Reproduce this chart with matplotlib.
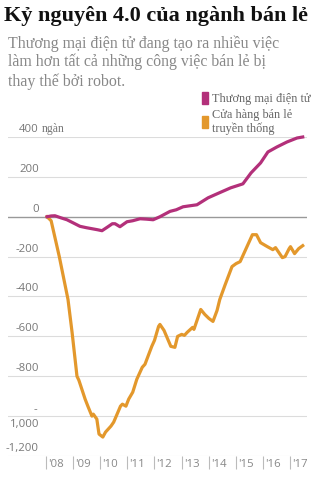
# -*- coding: utf-8 -*-
"""Recreate the retail jobs line chart (e-commerce vs traditional stores)."""
import matplotlib
matplotlib.use("Agg")
import matplotlib.pyplot as plt
import matplotlib.transforms as mtransforms
from matplotlib.patches import Patch

# Data (thousand jobs, change since Jan 2008)
ecom_years = [2008.05, 2008.2, 2008.34, 2008.55, 2008.78, 2009.0, 2009.26,
              2009.5, 2009.7, 2009.9, 2010.07, 2010.29, 2010.45, 2010.55,
              2010.73, 2010.99, 2011.2, 2011.47, 2011.7, 2011.95, 2012.2,
              2012.57, 2012.8, 2013.05, 2013.3, 2013.56, 2013.97, 2014.3,
              2014.8, 2015.25, 2015.55, 2015.9, 2016.17, 2016.5, 2016.87,
              2017.24, 2017.45]
ecom_vals = [0, 4, 5, -5, -15, -30, -48, -55, -60, -65, -70, -50, -35, -35,
             -50, -25, -20, -10, -12, -15, 0, 27, 35, 50, 55, 60, 95, 115,
             145, 165, 220, 270, 325, 350, 375, 395, 400]

store_years = [2008.05, 2008.2, 2008.5, 2008.82, 2008.97, 2009.15, 2009.22,
               2009.45, 2009.55, 2009.7, 2009.75, 2009.88, 2009.96, 2010.1,
               2010.2, 2010.4, 2010.5, 2010.75, 2010.82, 2010.95, 2011.05,
               2011.2, 2011.35, 2011.55, 2011.65, 2011.9, 2012.0, 2012.15,
               2012.2, 2012.35, 2012.6, 2012.75, 2012.85, 2013.0, 2013.1,
               2013.2, 2013.4, 2013.45, 2013.7, 2013.85, 2014.0, 2014.15,
               2014.3, 2014.4, 2014.6, 2014.85, 2015.0, 2015.15, 2015.4,
               2015.6, 2015.75, 2015.9, 2016.15, 2016.35, 2016.45, 2016.7,
               2016.8, 2016.95, 2017.0, 2017.15, 2017.3, 2017.45]
store_vals = [0, -20, -200, -415, -580, -800, -820, -915, -950, -1000, -990,
              -1015, -1090, -1105, -1080, -1050, -1030, -950, -940, -950,
              -915, -880, -815, -755, -740, -650, -620, -550, -540, -570,
              -650, -655, -600, -590, -595, -580, -555, -565, -465, -490,
              -510, -525, -470, -415, -340, -250, -235, -225, -150, -90,
              -90, -130, -150, -165, -155, -205, -200, -160, -150, -185,
              -160, -145]

tick_years = [2008, 2009, 2010, 2011, 2012, 2013, 2014, 2015, 2016, 2017]
tick_labels = ["'08", "'09", "'10", "'11", "'12", "'13", "'14", "'15",
               "'16", "'17"]
y_vals = [400, 200, 0, -200, -400, -600, -800, -1000, -1200]
y_labels = ["400", "200", "0", "-200", "-400", "-600", "-800", "-\n1,000",
            "-1,200"]

title = "Kỷ nguyên 4.0 của ngành bán lẻ"
subtitle = ("Thương mại điện tử đang tạo ra nhiều việc\n"
            "làm hơn tất cả những công việc bán lẻ bị\n"
            "thay thế bởi robot.")
series_names = ["Thương mại điện tử", "Cửa hàng bán lẻ\ntruyền thống"]

PINK = "#b3307a"
ORANGE = "#e3982c"
LABEL = "#777777"
W, H = 312, 490

fig = plt.figure(figsize=(W / 100, H / 100), dpi=100)
fig.patch.set_facecolor("white")

# axes placed in pixels: x 8..307, y 137..456 (top = 400, bottom = -1200)
ax = fig.add_axes([8 / W, (H - 456) / H, 299 / W, 319 / H])
ax.set_xlim(2006.614, 2017.607)
ax.set_ylim(-1200, 400)
for s in ax.spines.values():
    s.set_visible(False)

# gridlines
for v in y_vals:
    ax.axhline(v, color="#999999" if v == 0 else "#dcdcdc",
               lw=1.0 if v == 0 else 0.8, zorder=1)

ax.plot(store_years, store_vals, color=ORANGE, lw=2.3, zorder=3,
        solid_joinstyle="round", clip_on=False)
ax.plot(ecom_years, ecom_vals, color=PINK, lw=2.3, zorder=4,
        solid_joinstyle="round", clip_on=False)

# y labels sit above their gridline, right aligned
ax.set_yticks([])
lab_x = (39 - 8) / 299
tick_font = {"fontsize": 8.2, "color": LABEL, "family": "Open Sans"}
for v, lab in zip(y_vals, y_labels):
    if lab.startswith("-\n"):
        ax.annotate("-", xy=(lab_x, v), xycoords=("axes fraction", "data"),
                    xytext=(-1, 1), textcoords="offset points", ha="right",
                    va="bottom", **tick_font)
        ax.annotate(lab[2:], xy=(lab_x, v), xycoords=("axes fraction", "data"),
                    xytext=(0, -2), textcoords="offset points", ha="right",
                    va="top", **tick_font)
    else:
        ax.annotate(lab, xy=(lab_x, v), xycoords=("axes fraction", "data"),
                    xytext=(0, 1.5), textcoords="offset points", ha="right",
                    va="bottom", **tick_font)
ax.annotate("ngàn", xy=(lab_x, 400), xycoords=("axes fraction", "data"),
            xytext=(2, 1.5), textcoords="offset points", ha="left",
            va="bottom", fontsize=8.5, color=LABEL,
            family="Liberation Serif")

# x ticks: short gray marks with the label to the right
ax.set_xticks(tick_years)
ax.set_xticklabels(tick_labels, fontsize=8.2, color="#888888",
                   family="Open Sans")
ax.tick_params(axis="x", length=9, width=0.8, color="#bbbbbb", pad=-7)
shift = mtransforms.ScaledTranslation(2 / 100, 0, fig.dpi_scale_trans)
for lbl in ax.get_xticklabels():
    lbl.set_horizontalalignment("left")
    lbl.set_transform(lbl.get_transform() + shift)

# legend
handles = [Patch(color=PINK), Patch(color=ORANGE)]
leg = fig.legend(handles, series_names, loc="upper left",
                 bbox_to_anchor=(202 / W, 1 - 92 / H), frameon=False,
                 handlelength=0.45, handleheight=1.1, handletextpad=0.35,
                 labelspacing=0.3, borderpad=0, borderaxespad=0,
                 prop={"family": "Liberation Serif", "size": 8.8})
for t in leg.get_texts():
    t.set_color("#666666")

fig.text(4 / W, 1 - 6 / H, title, ha="left", va="top", fontsize=16,
         fontweight="bold", family="Liberation Serif", color="#111111")
fig.text(8 / W, 1 - 35 / H, subtitle, ha="left", va="top", fontsize=11.4,
         family="Liberation Serif", color="#888888", linespacing=1.2)

fig.savefig("out.png", dpi=100)
